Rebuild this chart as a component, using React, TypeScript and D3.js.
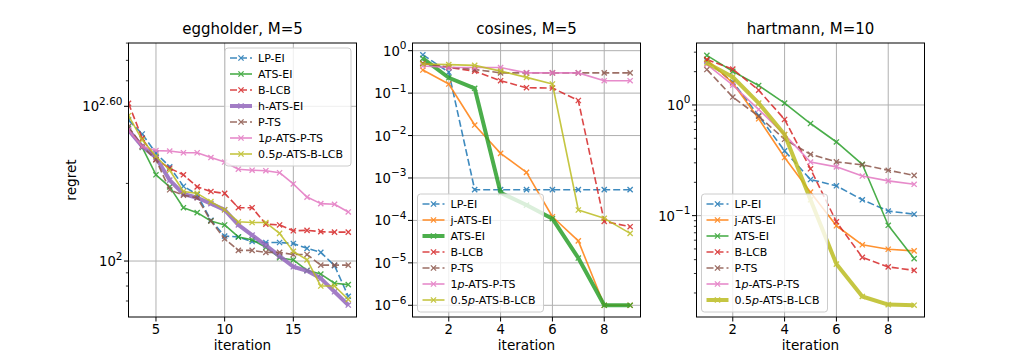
import React from 'react'
import * as d3 from 'd3'

// iterations
const itersEgg = [3, 4, 5, 6, 7, 8, 9, 10, 11, 12, 13, 14, 15, 16, 17, 18, 19]
const itersShort = [1, 2, 3, 4, 5, 6, 7, 8, 9]

// eggholder, M=5
const eggLPEI = [352, 311, 262, 232, 195, 181, 144, 125, 124, 119, 118, 118, 117, 112, 108, 96, 73]
const eggATSEI = [327, 276, 216, 194, 161, 154, 143, 138, 124, 121, 113, 103, 101, 92, 89, 82, 81]
const eggBLCB = [409, 299, 248, 229, 216, 194, 186, 183, 161, 161, 139, 138, 131, 131.5, 130, 129.4, 129.4]
const eggHATSEI = [322, 278, 252, 206, 182, 176, 167, 158, 138, 126, 115, 104.5, 95, 91.6, 85.7, 76, 67.5]
const eggPTS = [332, 279, 247, 189, 180, 176, 143, 122, 110, 110, 108, 108, 106, 106, 96.4, 96.4, 96.4]
const egg1pATSPTS = [322, 278, 268, 267, 263, 263, 252, 242, 227, 225, 224, 220, 199, 177, 167, 166, 155]
const egg05pATSBLCB = [366, 295, 255, 225, 186, 183, 170, 158, 142, 141, 141, 128, 109, 101, 80, 80, 71]

// cosines, M=5
const cosLPEI = [0.8, 0.31, 5.3e-4, 5.3e-4, 5.3e-4, 5.3e-4, 5.3e-4, 5.3e-4, 5.3e-4]
const cosJATSEI = [0.35, 0.164, 0.0177, 0.0038, 1.36e-3, 1.22e-4, 3.3e-5, 1e-6, 1e-6]
const cosATSEI = [0.66, 0.23, 0.13, 4.5e-4, 2.3e-4, 1.1e-4, 1.3e-5, 1e-6, 1e-6]
const cosBLCB = [0.5, 0.4, 0.33, 0.196, 0.134, 0.132, 0.067, 9.5e-5, 7.1e-5]
const cosPTS = [0.5, 0.41, 0.36, 0.3, 0.3, 0.3, 0.3, 0.3, 0.3]
const cos1pATSPTS = [0.435, 0.4, 0.4, 0.4, 0.3, 0.3, 0.3, 0.196, 0.196]
const cos05pATSBLCB = [0.485, 0.47, 0.45, 0.33, 0.235, 0.164, 1.76e-4, 1.12e-4, 4.95e-5]

// hartmann, M=10
const harLPEI = [2.5, 1.61, 0.8, 0.385, 0.212, 0.186, 0.139, 0.11, 0.103]
const harJATSEI = [2.57, 1.58, 0.75, 0.335, 0.163, 0.081, 0.0545, 0.0497, 0.048]
const harATSEI = [2.81, 2.01, 1.5, 1.04, 0.68, 0.463, 0.291, 0.0818, 0.0409]
const harBLCB = [2.57, 2.11, 1.36, 0.74, 0.265, 0.088, 0.042, 0.0344, 0.032]
const harPTS = [2.09, 1.18, 0.79, 0.49, 0.358, 0.306, 0.288, 0.257, 0.231]
const har1pATSPTS = [2.33, 1.51, 0.91, 0.54, 0.305, 0.276, 0.228, 0.206, 0.192]
const har05pATSBLCB = [2.4, 1.79, 1.04, 0.54, 0.139, 0.0365, 0.0186, 0.0157, 0.0155]

const colors = {
  'LP-EI': '#1f77b4',
  'j-ATS-EI': '#ff7f0e',
  'ATS-EI': '#2ca02c',
  'B-LCB': '#d62728',
  'h-ATS-EI': '#9467bd',
  'P-TS': '#8c564b',
  '1p-ATS-P-TS': '#e377c2',
  '0.5p-ATS-B-LCB': '#bcbd22'
}
const dashed = ['LP-EI', 'B-LCB', 'P-TS']

const panels = [
  {
    title: 'eggholder, M=5',
    xs: itersEgg,
    xDomain: [3, 19.6],
    xTicks: [5, 10, 15],
    yDomain: [Math.pow(10, 1.783), Math.pow(10, 2.8455)],
    yMajor: [{ v: 100, exp: '2' }, { v: Math.pow(10, 2.6), exp: '2.60' }],
    yMinor: [70, 80, 90, 200, 500, 600, 700],
    thick: 'h-ATS-EI',
    legendPos: 'topright',
    series: [
      ['LP-EI', eggLPEI], ['ATS-EI', eggATSEI], ['B-LCB', eggBLCB], ['h-ATS-EI', eggHATSEI],
      ['P-TS', eggPTS], ['1p-ATS-P-TS', egg1pATSPTS], ['0.5p-ATS-B-LCB', egg05pATSBLCB]
    ]
  },
  {
    title: 'cosines, M=5',
    xs: itersShort,
    xDomain: [0.6, 9.4],
    xTicks: [2, 4, 6, 8],
    yDomain: [Math.pow(10, -6.276), Math.pow(10, 0.181)],
    yMajor: [0, -1, -2, -3, -4, -5, -6].map(e => ({ v: Math.pow(10, e), exp: e < 0 ? '\u2212' + -e : '0' })),
    yMinor: [],
    thick: 'ATS-EI',
    legendPos: 'bottomleft',
    series: [
      ['LP-EI', cosLPEI], ['j-ATS-EI', cosJATSEI], ['ATS-EI', cosATSEI], ['B-LCB', cosBLCB],
      ['P-TS', cosPTS], ['1p-ATS-P-TS', cos1pATSPTS], ['0.5p-ATS-B-LCB', cos05pATSBLCB]
    ]
  },
  {
    title: 'hartmann, M=10',
    xs: itersShort,
    xDomain: [0.6, 9.4],
    xTicks: [2, 4, 6, 8],
    yDomain: [Math.pow(10, -1.916), Math.pow(10, 0.56)],
    yMajor: [{ v: 1, exp: '0' }, { v: 0.1, exp: '\u22121' }],
    yMinor: [2, 3, 0.2, 0.3, 0.4, 0.5, 0.6, 0.7, 0.8, 0.9, 0.02, 0.03, 0.04, 0.05, 0.06, 0.07, 0.08, 0.09],
    thick: '0.5p-ATS-B-LCB',
    legendPos: 'bottomleft',
    series: [
      ['LP-EI', harLPEI], ['j-ATS-EI', harJATSEI], ['ATS-EI', harATSEI], ['B-LCB', harBLCB],
      ['P-TS', harPTS], ['1p-ATS-P-TS', har1pATSPTS], ['0.5p-ATS-B-LCB', har05pATSBLCB]
    ]
  }
]

const lefts = [128.5, 412.5, 696.5]
const pw = 228
const top = 43
const bottom = 317
const font = 'DejaVu Sans, sans-serif'

const Marker = ({ x, y, color }) => (
  <path d={`M${x - 2.6},${y - 2.6}L${x + 2.6},${y + 2.6}M${x - 2.6},${y + 2.6}L${x + 2.6},${y - 2.6}`}
    stroke={color} strokeWidth={1.3} fill='none' />
)

const Label = ({ name }) => {
  const m = name.match(/^([\d.]+)p(.*)$/)
  if (!m) return <>{name}</>
  return <>{m[1]}<tspan fontStyle='italic'>p</tspan>{m[2]}</>
}

const Panel = ({ cfg, left, showYLabel }) => {
  const right = left + pw
  const x = d3.scaleLinear().domain(cfg.xDomain).range([left, right])
  const y = d3.scaleLog().domain(cfg.yDomain).range([bottom, top])
  const line = d3.line().x(d => x(d[0])).y(d => y(d[1]))

  const lw = name => (name === cfg.thick ? 4 : 1.6)
  const dash = name => (dashed.includes(name) ? '7,3' : null)

  const legW = 126
  const legH = 118
  const lx = cfg.legendPos === 'topright' ? right - 5.5 - legW : left + 5
  const ly = cfg.legendPos === 'topright' ? top + 5 : bottom - 5 - legH
  const clipId = 'clip' + Math.round(left)

  return (
    <g>
      <defs>
        <clipPath id={clipId}><rect x={left} y={top} width={pw} height={bottom - top} /></clipPath>
      </defs>
      {/* grid */}
      {cfg.xTicks.map(t => (
        <line key={'gx' + t} x1={x(t)} x2={x(t)} y1={top} y2={bottom} stroke='#b0b0b0' strokeWidth={1} />
      ))}
      {cfg.yMajor.map(t => (
        <line key={'gy' + t.v} x1={left} x2={right} y1={y(t.v)} y2={y(t.v)} stroke='#b0b0b0' strokeWidth={1} />
      ))}
      {/* series */}
      <g clipPath={`url(#${clipId})`}>
        {cfg.series.map(([name, vals]) => {
          const pts = cfg.xs.map((xv, i) => [xv, vals[i]])
          return (
            <g key={name} opacity={0.85}>
              <path d={line(pts)} fill='none' stroke={colors[name]} strokeWidth={lw(name)}
                strokeDasharray={dash(name)} strokeLinejoin='round' />
              {pts.map((p, i) => <Marker key={i} x={x(p[0])} y={y(p[1])} color={colors[name]} />)}
            </g>
          )
        })}
      </g>
      {/* frame */}
      <rect x={left} y={top} width={pw} height={bottom - top} fill='none' stroke='#000' strokeWidth={1} />
      {/* x ticks */}
      {cfg.xTicks.map(t => (
        <g key={'xt' + t}>
          <line x1={x(t)} x2={x(t)} y1={bottom} y2={bottom + 4.5} stroke='#000' strokeWidth={1} />
          <text x={x(t)} y={334} textAnchor='middle' fontSize={13.2} fontFamily={font}>{t}</text>
        </g>
      ))}
      {/* y ticks */}
      {cfg.yMinor.map(t => (
        <line key={'ym' + t} x1={left - 2.6} x2={left} y1={y(t)} y2={y(t)} stroke='#000' strokeWidth={0.8} />
      ))}
      {cfg.yMajor.map(t => (
        <g key={'yt' + t.v}>
          <line x1={left - 4.5} x2={left} y1={y(t.v)} y2={y(t.v)} stroke='#000' strokeWidth={1} />
          <text x={left - 6} y={y(t.v) + 5} textAnchor='end' fontSize={13.2} fontFamily={font}>
            10<tspan dy={-6.5} fontSize={10.5}>{t.exp}</tspan>
          </text>
        </g>
      ))}
      <text x={(left + right) / 2} y={33.5} textAnchor='middle' fontSize={15} fontFamily={font}>{cfg.title}</text>
      <text x={(left + right) / 2} y={350} textAnchor='middle' fontSize={13.6} fontFamily={font}>iteration</text>
      {showYLabel && (
        <text transform={`translate(76,${(top + bottom) / 2}) rotate(-90)`} textAnchor='middle'
          fontSize={13.6} fontFamily={font}>regret</text>
      )}
      {/* legend */}
      <rect x={lx} y={ly} width={legW} height={legH} rx={3} fill='#fff' fillOpacity={0.8}
        stroke='#cccccc' strokeWidth={1} />
      {cfg.series.map(([name], i) => {
        const ry = ly + 10 + i * 16
        return (
          <g key={'lg' + name}>
            <g opacity={0.85}>
              <line x1={lx + 5} x2={lx + 27} y1={ry} y2={ry} stroke={colors[name]} strokeWidth={lw(name)}
                strokeDasharray={dash(name)} />
              <Marker x={lx + 16} y={ry} color={colors[name]} />
            </g>
            <text x={lx + 33} y={ry + 4} fontSize={11} fontFamily={font}><Label name={name} /></text>
          </g>
        )
      })}
    </g>
  )
}

export default function App() {
  return (
    <svg width={1027} height={357} style={{ position: 'absolute', left: 0, top: 0, background: '#fff' }}>
      <rect width={1027} height={357} fill='#fff' />
      {panels.map((cfg, i) => (
        <Panel key={cfg.title} cfg={cfg} left={lefts[i]} showYLabel={i === 0} />
      ))}
    </svg>
  )
}
